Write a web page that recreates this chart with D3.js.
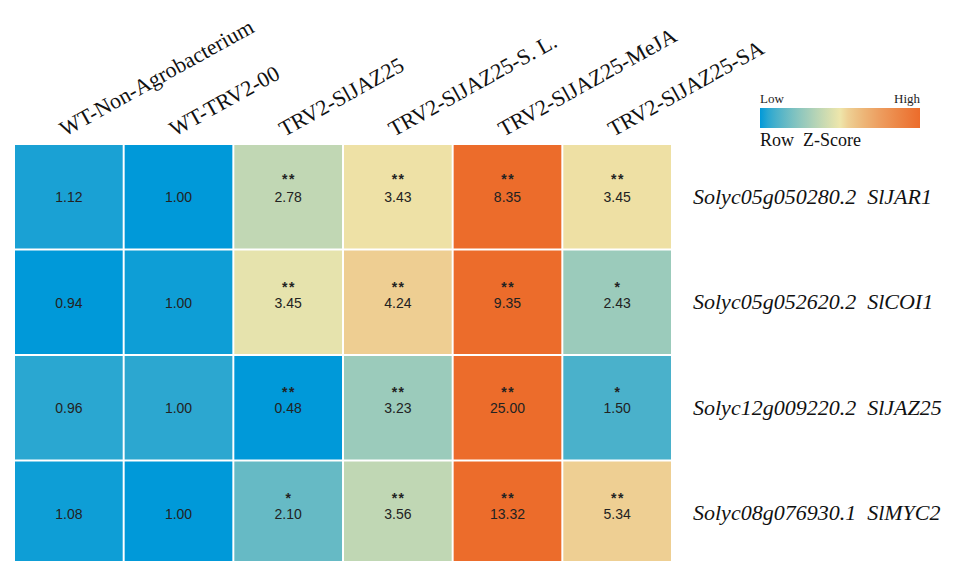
<!DOCTYPE html>
<html>
<head>
<meta charset="utf-8">
<script src="https://cdn.jsdelivr.net/npm/d3@7"></script>
<style>
  html, body { margin: 0; padding: 0; background: #fff; }
  svg { display: block; }
</style>
</head>
<body>
<svg id="chart" width="959" height="561"></svg>
<script>
// ---- data ----
const columns = ["WT-Non-Agrobacterium", "WT-TRV2-00", "TRV2-SlJAZ25", "TRV2-SlJAZ25-S. L.", "TRV2-SlJAZ25-MeJA", "TRV2-SlJAZ25-SA"];
const genes = ["Solyc05g050280.2  SlJAR1", "Solyc05g052620.2  SlCOI1", "Solyc12g009220.2  SlJAZ25", "Solyc08g076930.1  SlMYC2"];
const valuesJAR1  = [1.12, 1.00, 2.78, 3.43, 8.35, 3.45];
const valuesCOI1  = [0.94, 1.00, 3.45, 4.24, 9.35, 2.43];
const valuesJAZ25 = [0.96, 1.00, 0.48, 3.23, 25.00, 1.50];
const valuesMYC2  = [1.08, 1.00, 2.10, 3.56, 13.32, 5.34];
const sigJAR1  = ["", "", "**", "**", "**", "**"];
const sigCOI1  = ["", "", "**", "**", "**", "*"];
const sigJAZ25 = ["", "", "**", "**", "**", "*"];
const sigMYC2  = ["", "", "*", "**", "**", "**"];
const legendLabels = ["Low", "High"];
const legendTitle = "Row  Z-Score";

const values = [valuesJAR1, valuesCOI1, valuesJAZ25, valuesMYC2];
const sigs = [sigJAR1, sigCOI1, sigJAZ25, sigMYC2];

// ---- colours ----
const cLow = "#0099d9", cMid = "#eee6ab", cHigh = "#ec6c2b";
const iLow = d3.interpolateRgb(cLow, cMid), iHigh = d3.interpolateRgb(cMid, cHigh);
const gam = 0.75;
function colorAt(z) { // z in [-1,1]
  if (z < 0) return iLow(Math.pow(1 + z, gam));
  return iHigh(Math.pow(z, gam));
}

const svg = d3.select("#chart");

const x = d3.scaleBand().domain(d3.range(columns.length)).range([15, 671]).paddingInner(0.018);
const y = d3.scaleBand().domain(d3.range(genes.length)).range([145, 565]).paddingInner(0.019);

const cells = [];
values.forEach((row, r) => {
  const mn = d3.min(row), mx = d3.max(row), mean = d3.mean(row);
  const z = d3.scaleLinear().domain([mn, mean, mx]).range([-1, 0, 1]).clamp(true);
  row.forEach((v, c) => cells.push({ r, c, v, s: sigs[r][c], fill: colorAt(z(v)) }));
});

const g = svg.append("g");
g.selectAll("rect.cell").data(cells).join("rect")
  .attr("class", "cell")
  .attr("x", d => x(d.c)).attr("y", d => y(d.r))
  .attr("width", x.bandwidth()).attr("height", y.bandwidth())
  .attr("fill", d => d.fill);

const cx = d => x(d.c) + x.bandwidth() / 2;
const cy = d => y(d.r) + y.bandwidth() / 2;

g.selectAll("text.sig").data(cells.filter(d => d.s)).join("text")
  .attr("class", "sig")
  .attr("x", d => cx(d) + 0.8)
  .attr("y", d => cy(d) - (d.r === 0 ? 13 : 10.3))
  .attr("text-anchor", "middle")
  .attr("font-family", "'Liberation Sans', Arial, sans-serif")
  .attr("font-size", 14)
  .attr("font-weight", "bold")
  .attr("letter-spacing", 1.5)
  .attr("fill", "#222")
  .text(d => d.s);

g.selectAll("text.val").data(cells).join("text")
  .attr("class", "val")
  .attr("x", cx)
  .attr("y", d => cy(d) + 5.5)
  .attr("text-anchor", "middle")
  .attr("font-family", "'Liberation Sans', Arial, sans-serif")
  .attr("font-size", 14)
  .attr("fill", "#222")
  .text(d => d.v.toFixed(2));

// column labels
svg.append("g").selectAll("text").data(columns).join("text")
  .attr("transform", (d, i) => `translate(${x(i) + x.bandwidth() / 2 - 4},137) rotate(-29)`)
  .attr("font-family", "'Liberation Serif', 'Times New Roman', serif")
  .attr("font-size", 22)
  .attr("fill", "#111")
  .text(d => d);

// row labels
svg.append("g").selectAll("text").data(genes).join("text")
  .attr("x", 693)
  .attr("y", (d, i) => y(i) + y.bandwidth() / 2 + 7)
  .attr("font-family", "'Liberation Serif', 'Times New Roman', serif")
  .attr("font-style", "italic")
  .attr("font-size", 22)
  .attr("fill", "#111")
  .style("white-space", "pre")
  .text(d => d);

// legend
const defs = svg.append("defs");
const grad = defs.append("linearGradient").attr("id", "lg").attr("x1", "0%").attr("x2", "100%");
d3.range(0, 1.0001, 0.05).forEach(t => {
  grad.append("stop").attr("offset", (t * 100) + "%").attr("stop-color", colorAt(t * 2 - 1));
});
const lx = d3.scaleLinear().domain([0, 1]).range([760, 920]);
svg.append("rect").attr("x", lx(0)).attr("y", 108).attr("width", lx(1) - lx(0)).attr("height", 20).attr("fill", "url(#lg)");
svg.append("text").attr("x", lx(0)).attr("y", 103)
  .attr("font-family", "'Liberation Serif', 'Times New Roman', serif").attr("font-size", 13).attr("fill", "#222")
  .text(legendLabels[0]);
svg.append("text").attr("x", lx(1)).attr("y", 103).attr("text-anchor", "end")
  .attr("font-family", "'Liberation Serif', 'Times New Roman', serif").attr("font-size", 13).attr("fill", "#222")
  .text(legendLabels[1]);
svg.append("text").attr("x", lx(0)).attr("y", 146)
  .attr("font-family", "'Liberation Serif', 'Times New Roman', serif").attr("font-size", 18).attr("fill", "#111")
  .style("white-space", "pre")
  .text(legendTitle);
</script>
</body>
</html>
